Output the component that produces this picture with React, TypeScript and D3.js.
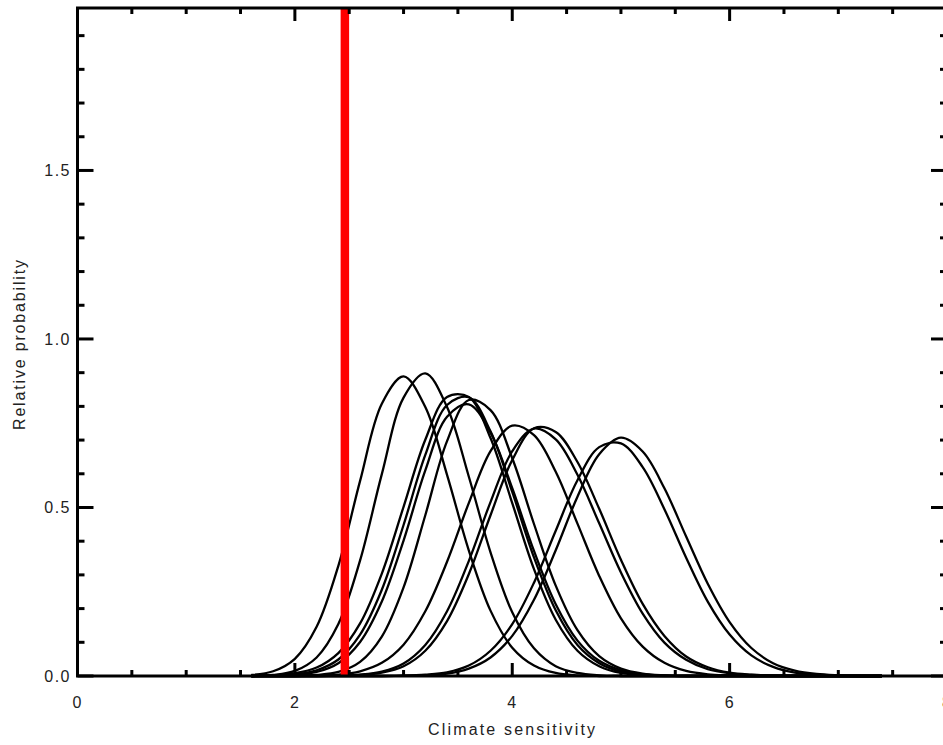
import React from "react";
import * as d3 from "d3";

// Climate sensitivity grid (x values of the sampled curves)
const SENS = [1.6, 1.8, 2.0, 2.2, 2.4, 2.6, 2.8, 3.0, 3.2, 3.4, 3.6, 3.8, 4.0, 4.2, 4.4, 4.6, 4.8, 5.0, 5.2, 5.4, 5.6, 5.8, 6.0, 6.2, 6.4, 6.6, 6.8, 7.0, 7.2, 7.4];

// Relative probability of each curve
const curve1 = [0.003, 0.014, 0.051, 0.146, 0.327, 0.579, 0.808, 0.889, 0.798, 0.597, 0.373, 0.194, 0.084, 0.031, 0.009, 0.002, 0, 0, 0, 0, 0, 0, 0, 0, 0, 0, 0, 0, 0, 0];
const curve2 = [0, 0.003, 0.015, 0.055, 0.154, 0.343, 0.599, 0.826, 0.898, 0.798, 0.592, 0.367, 0.189, 0.082, 0.029, 0.009, 0.002, 0, 0, 0, 0, 0, 0, 0, 0, 0, 0, 0, 0, 0];
const curve3 = [0, 0.002, 0.008, 0.025, 0.068, 0.156, 0.304, 0.502, 0.701, 0.828, 0.828, 0.706, 0.513, 0.317, 0.167, 0.075, 0.029, 0.009, 0.003, 0, 0, 0, 0, 0, 0, 0, 0, 0, 0, 0];
const curve4 = [0, 0.001, 0.005, 0.017, 0.049, 0.123, 0.256, 0.448, 0.656, 0.804, 0.827, 0.726, 0.546, 0.352, 0.195, 0.092, 0.038, 0.013, 0.004, 0.001, 0, 0, 0, 0, 0, 0, 0, 0, 0, 0];
const curve5 = [0, 0.001, 0.003, 0.012, 0.038, 0.101, 0.221, 0.402, 0.61, 0.769, 0.806, 0.722, 0.557, 0.371, 0.213, 0.105, 0.045, 0.017, 0.005, 0.001, 0, 0, 0, 0, 0, 0, 0, 0, 0, 0];
const curve6 = [0, 0, 0, 0.003, 0.012, 0.042, 0.117, 0.263, 0.477, 0.697, 0.819, 0.789, 0.646, 0.451, 0.268, 0.136, 0.059, 0.022, 0.007, 0.002, 0, 0, 0, 0, 0, 0, 0, 0, 0, 0];
const curve7 = [0, 0, 0, 0.001, 0.004, 0.014, 0.039, 0.093, 0.192, 0.339, 0.513, 0.667, 0.743, 0.715, 0.606, 0.452, 0.297, 0.171, 0.087, 0.039, 0.015, 0.005, 0.002, 0, 0, 0, 0, 0, 0, 0];
const curve8 = [0, 0, 0, 0, 0.001, 0.004, 0.013, 0.037, 0.092, 0.192, 0.341, 0.516, 0.667, 0.734, 0.702, 0.597, 0.453, 0.307, 0.185, 0.099, 0.048, 0.02, 0.008, 0.003, 0.001, 0, 0, 0, 0, 0];
const curve9 = [0, 0, 0, 0, 0.001, 0.003, 0.01, 0.029, 0.075, 0.163, 0.302, 0.477, 0.641, 0.735, 0.724, 0.635, 0.496, 0.345, 0.214, 0.119, 0.058, 0.026, 0.01, 0.004, 0.001, 0, 0, 0, 0, 0];
const curve10 = [0, 0, 0, 0, 0, 0, 0, 0.001, 0.004, 0.011, 0.031, 0.075, 0.154, 0.277, 0.431, 0.581, 0.679, 0.69, 0.62, 0.495, 0.351, 0.22, 0.123, 0.061, 0.027, 0.01, 0.004, 0.001, 0, 0];
const curve11 = [0, 0, 0, 0, 0, 0, 0, 0.001, 0.002, 0.007, 0.022, 0.055, 0.119, 0.226, 0.373, 0.532, 0.658, 0.707, 0.666, 0.557, 0.414, 0.273, 0.16, 0.083, 0.038, 0.016, 0.006, 0.002, 0, 0];

const CURVES = [curve1, curve2, curve3, curve4, curve5, curve6, curve7, curve8, curve9, curve10, curve11];

const RED_LINE_X = 2.46;

const X_MAJOR = [0, 2, 4, 6, 8];
const X_MINOR = [0.5, 1, 1.5, 2.5, 3, 3.5, 4.5, 5, 5.5, 6.5, 7, 7.5];
const Y_MAJOR = [0, 0.5, 1.0, 1.5];
const Y_MINOR = [0.1, 0.2, 0.3, 0.4, 0.6, 0.7, 0.8, 0.9, 1.1, 1.2, 1.3, 1.4, 1.6, 1.7, 1.8, 1.9];

const X_TITLE = "Climate sensitivity";
const Y_TITLE = "Relative probability";

export default function App() {
  const W = 943;
  const H = 745;
  const left = 77.5;
  const right = 947;
  const top = 8;
  const bottom = 676;

  const x = d3.scaleLinear().domain([0, 8]).range([left, right]);
  const y = d3.scaleLinear().domain([0, 1.982]).range([bottom, top]);

  const line = d3
    .line<number>()
    .x((_, i) => x(SENS[i]))
    .y((d) => y(d))
    .curve(d3.curveCatmullRom.alpha(0.5));

  const font = "'Liberation Sans', Arial, sans-serif";
  const axisW = 3;

  return (
    <svg
      width={W}
      height={H}
      style={{ position: "absolute", left: 0, top: 0, background: "#fff" }}
    >
      <rect x={0} y={0} width={W} height={H} fill="#fff" />
      {CURVES.map((c, i) => (
        <path key={i} d={line(c) || ""} fill="none" stroke="#000" strokeWidth={2.3} strokeLinejoin="round" />
      ))}
      <line
        x1={x(RED_LINE_X)}
        x2={x(RED_LINE_X)}
        y1={top}
        y2={bottom}
        stroke="#ff0000"
        strokeWidth={8.5}
      />
      {/* frame */}
      <rect x={left} y={top} width={right - left} height={bottom - top} fill="none" stroke="#000" strokeWidth={axisW} />
      {/* x ticks */}
      {X_MAJOR.map((v) => (
        <g key={"xm" + v}>
          <line x1={x(v)} x2={x(v)} y1={bottom} y2={bottom - 13} stroke="#000" strokeWidth={3} />
          <line x1={x(v)} x2={x(v)} y1={top} y2={top + 13} stroke="#000" strokeWidth={3} />
          <text x={x(v)} y={708} textAnchor="middle" fontFamily={font} fontSize={16} fill="#222" letterSpacing={1}>
            {String(v)}
          </text>
        </g>
      ))}
      {X_MINOR.map((v) => (
        <g key={"xn" + v}>
          <line x1={x(v)} x2={x(v)} y1={bottom} y2={bottom - 6} stroke="#000" strokeWidth={3} />
          <line x1={x(v)} x2={x(v)} y1={top} y2={top + 6} stroke="#000" strokeWidth={3} />
        </g>
      ))}
      {/* y ticks */}
      {Y_MAJOR.map((v) => (
        <g key={"ym" + v}>
          <line x1={left} x2={left + 16} y1={y(v)} y2={y(v)} stroke="#000" strokeWidth={3} />
          <line x1={right} x2={right - 16} y1={y(v)} y2={y(v)} stroke="#000" strokeWidth={3} />
          <text x={71} y={y(v) + 6} textAnchor="end" fontFamily={font} fontSize={16} fill="#222" letterSpacing={1.5}>
            {v.toFixed(1)}
          </text>
        </g>
      ))}
      {Y_MINOR.map((v) => (
        <g key={"yn" + v}>
          <line x1={left} x2={left + 7} y1={y(v)} y2={y(v)} stroke="#000" strokeWidth={3} />
          <line x1={right} x2={right - 7} y1={y(v)} y2={y(v)} stroke="#000" strokeWidth={3} />
        </g>
      ))}
      <text
        x={511.5}
        y={735}
        textAnchor="middle"
        fontFamily={font}
        fontSize={16}
        fill="#222"
        textLength={167}
        lengthAdjust="spacing"
      >
        {X_TITLE}
      </text>
      <text
        transform="translate(25,345) rotate(-90)"
        textAnchor="middle"
        fontFamily={font}
        fontSize={16}
        fill="#222"
        textLength={170}
        lengthAdjust="spacing"
      >
        {Y_TITLE}
      </text>
    </svg>
  );
}
